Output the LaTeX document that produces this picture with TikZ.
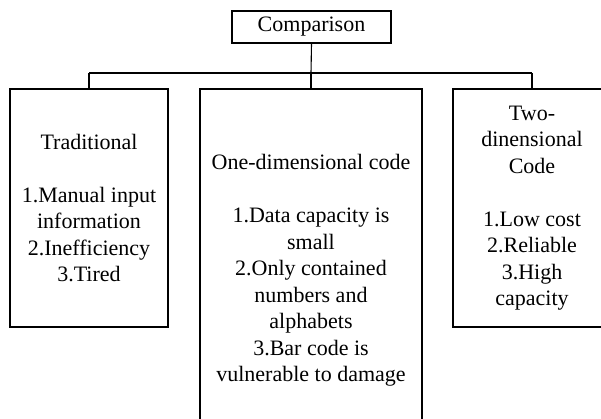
\documentclass[tikz,border=0pt]{standalone}
\usepackage{fontspec}
\setmainfont{Liberation Serif}
\begin{document}
\begin{tikzpicture}[x=1pt,y=-1pt,
  box/.style={draw, line width=1.1pt, align=center, inner sep=0pt,
    font=\fontsize{22}{26.5}\selectfont},
  link/.style={line width=1.1pt}]
\useasboundingbox (0,0) rectangle (601,419);
\clip (0,0) rectangle (601,419);

% root
\node[box, minimum width=159pt, minimum height=32pt] (cmp) at (311.5,27) {Comparison};

% the three compared approaches
\node[box, minimum width=158pt, minimum height=238pt] (trad) at (89,208)
  {Traditional\\[26.5pt]1.Manual input\\information\\2.Inefficiency\\3.Tired};
\node[box, minimum width=222pt, minimum height=363pt] (one) at (311,270.5)
  {One-dimensional code\\[26.5pt]1.Data capacity is\\small\\2.Only contained\\numbers and\\alphabets\\3.Bar code is\\vulnerable to damage};
\node[box, minimum width=158pt, minimum height=238pt] (two) at (532,208)
  {Two-\\dinensional\\Code\\[26.5pt]1.Low cost\\2.Reliable\\3.High\\capacity};

% bus joining the root to the three boxes
\coordinate (busL) at (89,73);
\coordinate (busM) at (311,73);
\coordinate (busR) at (532,73);
\draw[link] (cmp.south) -- (busM);
\draw[link] (busL) -- (busR);
\draw[link] (busL) -- (trad.north);
\draw[link] (busM) -- (one.north);
\draw[link] (busR) -- (two.north);
\end{tikzpicture}
\end{document}
